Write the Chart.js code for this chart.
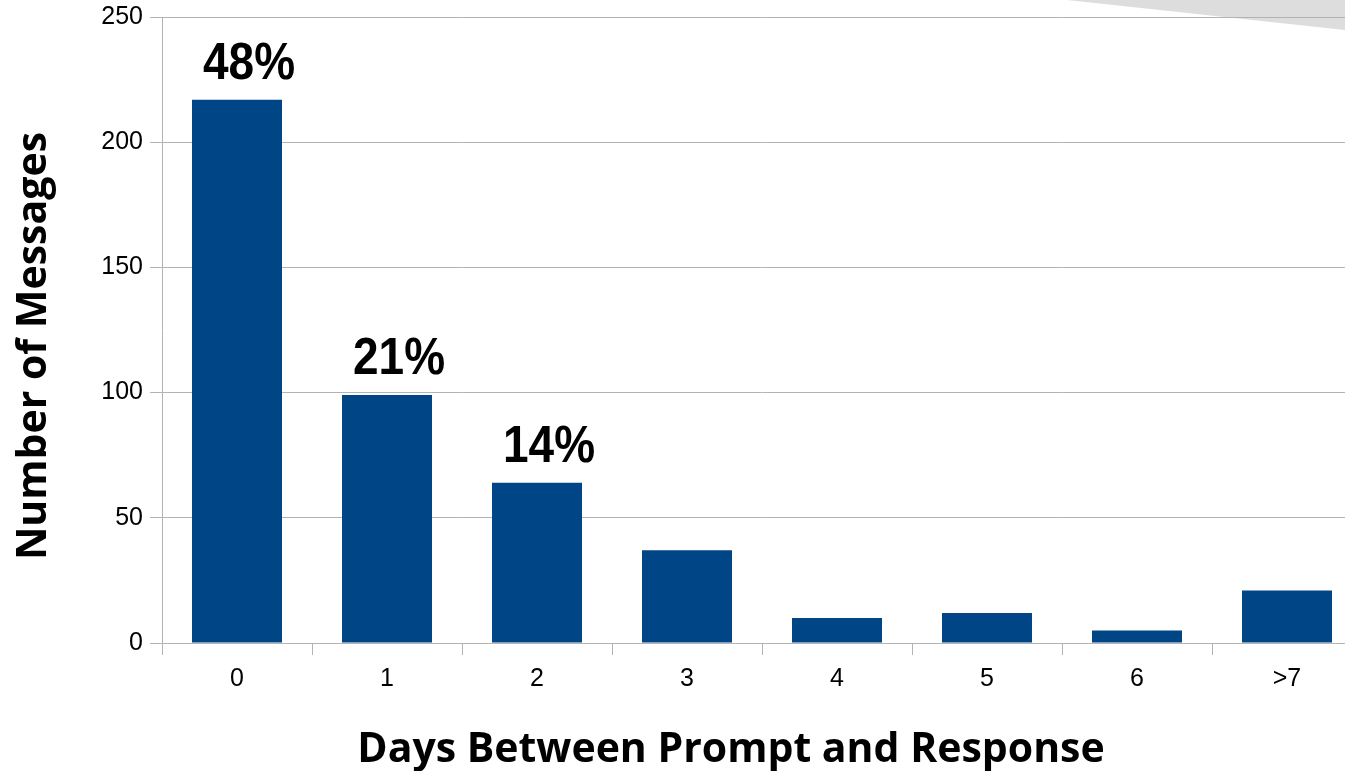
<!DOCTYPE html>
<html>
<head>
<meta charset="utf-8">
<script src="https://cdn.jsdelivr.net/npm/chart.js@4"></script>
<style>
  html, body { margin: 0; padding: 0; background: #fff; overflow: hidden; }
  #wrap { width: 1362px; height: 771px; }
</style>
</head>
<body>
<div id="wrap"><canvas id="myChart"></canvas></div>
<script>
var days = ['0', '1', '2', '3', '4', '5', '6', '>7'];
var messages = [217, 99, 64, 37, 10, 12, 5, 21];
var shares = ['48%', '21%', '14%', '', '', '', '', ''];
var yTicks = [0, 50, 100, 150, 200, 250];
var xTitle = 'Days Between Prompt and Response';
var yTitle = 'Number of Messages';

// grey wedge in the top right corner, drawn behind the grid
var cornerShape = {
    id: 'cornerShape',
    beforeDraw: function(chart) {
        var c = chart.ctx;
        c.save();
        c.fillStyle = '#dddddd';
        c.beginPath();
        c.moveTo(1067, 0);
        c.lineTo(1362, 0);
        c.lineTo(1362, 31);
        c.lineTo(1345, 30);
        c.closePath();
        c.fill();
        c.restore();
    }
};

// percentage labels over the first bars + the two axis titles
var textLayer = {
    id: 'textLayer',
    afterDatasetsDraw: function(chart) {
        var c = chart.ctx;
        var bars = chart.getDatasetMeta(0).data;
        var area = chart.chartArea;
        c.save();
        c.fillStyle = '#000';
        c.textAlign = 'center';
        c.textBaseline = 'alphabetic';
        c.font = 'bold 46px "Liberation Sans", Arial, sans-serif';
        bars.forEach(function(bar, i) {
            if (!shares[i]) return;
            // the labels in the original are a little taller than the font
            c.save();
            c.translate(bar.x + 12, bar.y - 21);
            c.scale(1, 1.12);
            c.fillText(shares[i], 0, 0);
            c.restore();
        });

        c.font = 'bold 41px "Open Sans", sans-serif';
        c.fillText(xTitle, area.left + 569, 762);

        c.translate(46, area.top + 329);
        c.rotate(-Math.PI / 2);
        c.fillText(yTitle, 0, 0);
        c.restore();
    }
};

var myChart = new Chart(document.getElementById('myChart'), {
    type: 'bar',
    data: {
        labels: days,
        datasets: [{
            data: messages,
            backgroundColor: '#004586',
            barPercentage: 0.6,
            categoryPercentage: 1.0
        }]
    },
    options: {
        responsive: true,
        maintainAspectRatio: false,
        animation: false,
        layout: { padding: { top: 17, right: 0, left: 0, bottom: 0 } },
        plugins: { legend: { display: false }, tooltip: { enabled: false } },
        scales: {
            x: {
                offset: true,
                grid: { offset: true, drawOnChartArea: false, color: '#b3b3b3', tickLength: 12, lineWidth: 1 },
                border: { display: false },
                ticks: { color: '#000', font: { family: '"Liberation Sans", Arial, sans-serif', size: 25 }, padding: 9, maxRotation: 0 },
                afterFit: function(s) { s.height = 128; s.paddingLeft = 0; s.paddingRight = 0; }
            },
            y: {
                min: 0,
                max: 250,
                afterBuildTicks: function(s) { s.ticks = yTicks.map(function(v) { return { value: v }; }); },
                grid: { color: '#b3b3b3', tickLength: 12, lineWidth: 1 },
                border: { color: '#b3b3b3' },
                ticks: { color: '#000', font: { family: '"Liberation Sans", Arial, sans-serif', size: 25 }, padding: 7 },
                afterFit: function(s) { s.width = 162; s.paddingTop = 0; s.paddingBottom = 0; }
            }
        }
    },
    plugins: [cornerShape, textLayer]
});
</script>
</body>
</html>
